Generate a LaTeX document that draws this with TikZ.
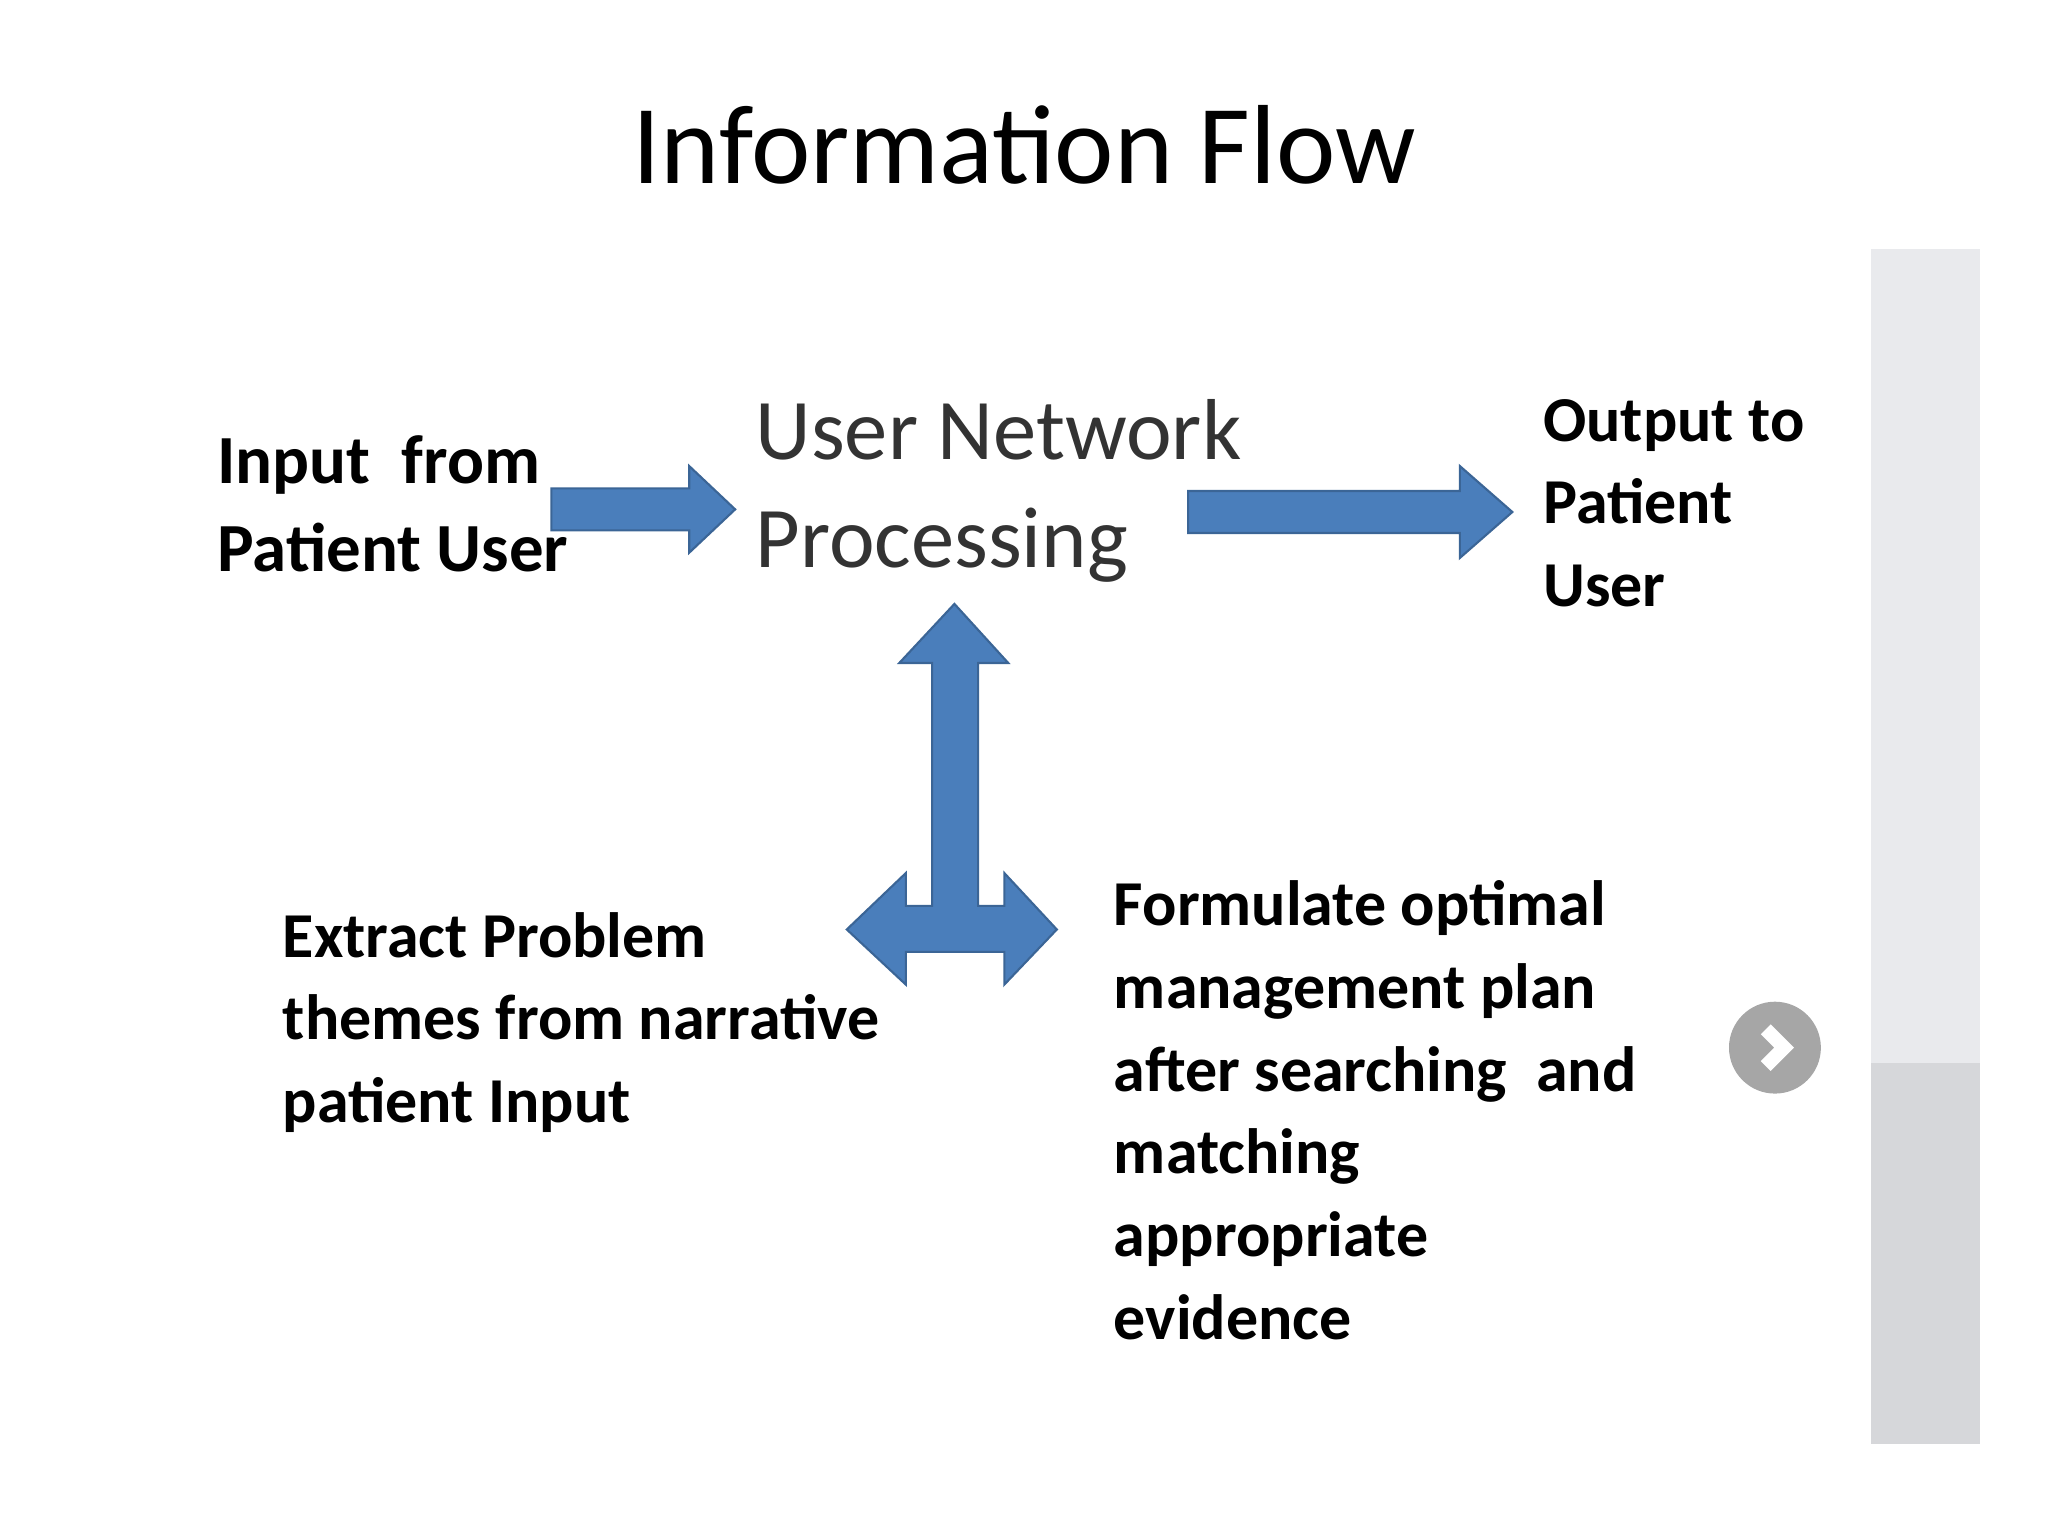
\documentclass[tikz,border=0pt]{standalone}
\usepackage{fontspec}
\setmainfont{Carlito}
\definecolor{arrowblue}{HTML}{4A7EBB}
\definecolor{panelgray}{HTML}{E9EAED}
\begin{document}
\begin{tikzpicture}[x=0.01313cm, y=-0.01313cm,
  blk/.style={fill=arrowblue, draw=arrowblue!80!black, line width=0.6pt},
  lbl/.style={anchor=base west, align=left, inner sep=0pt, font=\fontsize{18.2}{23.5}\selectfont\bfseries}]
\useasboundingbox (0,0) rectangle (1560,1170);

% side panel
\fill[panelgray] (1425,190) rectangle (1508,810);
\fill[panelgray!92!black] (1425,810) rectangle (1508,1100);
\fill[gray!70] (1352,798) circle (35);
\draw[white, line width=4pt] (1345,784) -- (1359,798) -- (1345,812);

\node[font=\fontsize{32}{38}\selectfont] (title) at (780,110) {Information Flow};

% block arrows
\draw[blk] (420,372) -- (525,372) -- (525,355) -- (560,388) -- (525,421) -- (525,404) -- (420,404) -- cycle;
\draw[blk] (905,374) -- (1112,374) -- (1112,355) -- (1152,390) -- (1112,425) -- (1112,406) -- (905,406) -- cycle;
\draw[blk] (727,460) -- (768,505) -- (745,505) -- (745,690) -- (765,690) -- (765,665)
  -- (805,708) -- (765,750) -- (765,725) -- (690,725) -- (690,750) -- (645,708)
  -- (690,665) -- (690,690) -- (710,690) -- (710,505) -- (685,505) -- cycle;

% labels (anchored at the last baseline)
\node[lbl, font=\fontsize{19.6}{25}\selectfont\bfseries] (inp) at (165,435) {Input\ \ from\\Patient User};
\node[lbl, font=\fontsize{24.6}{30.6}\selectfont, text=black!80] (unp) at (575,432) {User Network\\Processing};
\node[lbl] (out) at (1175,462) {Output to\\Patient\\User};
\node[lbl] (ext) at (215,855) {Extract Problem\\themes from narrative\\patient Input};
\node[lbl] (frm) at (848,1020) {Formulate optimal\\management plan\\after searching\ \ and\\matching\\appropriate\\evidence};
\end{tikzpicture}
\end{document}
